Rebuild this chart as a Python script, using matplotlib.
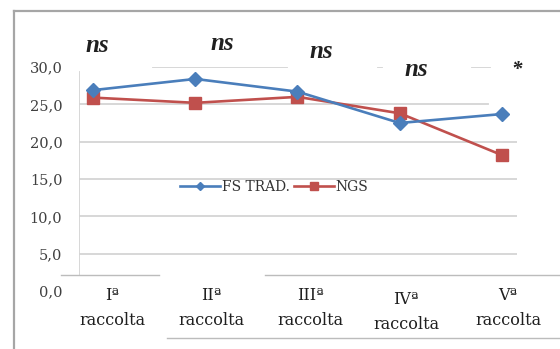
import matplotlib
matplotlib.use("Agg")
import matplotlib.pyplot as plt
from matplotlib.lines import Line2D

# ── Data ──────────────────────────────────────────────────────────────────────
categories = ["Iª\nraccolta", "IIª\nraccolta", "IIIª\nraccolta", "IVª\nraccolta", "Vª\nraccolta"]
fs_trad    = [26.9, 28.4, 26.7, 22.5, 23.7]
ngs        = [25.9, 25.2, 26.0, 23.8, 18.2]
signif     = ["ns", "ns", "ns", "ns", "*"]
y_ticks    = [0, 5, 10, 15, 20, 25, 30]

BLUE = "#4a7ebb"
RED  = "#c0504d"
GRID = "#d4d4d4"
TXT  = "#404040"

W, H = 560, 349

def fx(px):
    return px / W

def fy(py):
    return 1 - py / H

fig = plt.figure(figsize=(W / 100, H / 100), dpi=100)
ax = fig.add_axes([fx(79), fy(291), 438 / W, 224 / H])

x = list(range(len(categories)))
ax.set_xlim(-0.137, 4.147)
ax.set_ylim(0, 30)

# gridlines (the top one only shows in pieces)
for v in [5, 10, 15, 20]:
    ax.axhline(v, color=GRID, lw=1.3, zorder=0)
ax.axhline(25, xmax=0.934, color=GRID, lw=1.3, zorder=0)
for a, b in [(0.169, 0.475), (0.683, 0.692), (0.897, 0.938)]:
    ax.axhline(30, xmin=a, xmax=b, color=GRID, lw=1.3, zorder=0)
ax.axvline(-0.137, ymin=0.071, ymax=0.978, color=GRID, lw=1.3, zorder=0)

ax.plot(x, fs_trad, color=BLUE, lw=1.9, marker="D", ms=7, label="FS TRAD.", zorder=3)
ax.plot(x, ngs, color=RED, lw=1.9, marker="s", ms=9, label="NGS", zorder=2)

for s in ax.spines.values():
    s.set_visible(False)
ax.set_xticks([])
ax.set_yticks(y_ticks)
ax.set_yticklabels([f"{v:.1f}".replace(".", ",") for v in y_ticks],
                   family="DejaVu Serif", fontsize=10.5, color=TXT)
ax.tick_params(axis="y", length=0, pad=12)

leg = ax.legend(loc="center", bbox_to_anchor=(fx(274), fy(187)),
                bbox_transform=fig.transFigure, ncol=2, frameon=False,
                handlelength=2.9, handletextpad=0.1, columnspacing=0.3,
                markerscale=0.6, prop={"family": "DejaVu Serif", "size": 10})
for t in leg.get_texts():
    t.set_color("#333333")

# category labels
lab_x = [112, 211, 310, 406, 508]
lab_y = [308, 308, 308, 312, 308]
for c, px, py in zip(categories, lab_x, lab_y):
    fig.text(fx(px), fy(py), c, ha="center", va="center", linespacing=1.55,
             family="DejaVu Serif", fontsize=11.5, color="#202020")

# significance marks above each collection
sig_x = [97, 222, 321, 416, 517]
sig_y = [45, 43, 51, 70, 70]
for s, px, py in zip(signif, sig_x, sig_y):
    fig.text(fx(px), fy(py), s, ha="center", va="center",
             family="Liberation Serif", style="italic", weight="bold",
             fontsize=18 if s == "ns" else 15, color="#202020")

# outer frame and table rules
frame = dict(color="#a6a6a6", lw=1.6, transform=fig.transFigure)
fig.add_artist(Line2D([fx(14), 1], [fy(11), fy(11)], **frame))
fig.add_artist(Line2D([fx(14), fx(14)], [fy(11), 0], **frame))
rule = dict(color="#bcbcbc", lw=1.0, transform=fig.transFigure)
fig.add_artist(Line2D([fx(61), fx(159)], [fy(274.5), fy(274.5)], **rule))
fig.add_artist(Line2D([fx(265), 1], [fy(275), fy(275)], **rule))
fig.add_artist(Line2D([fx(167), 1], [fy(338), fy(338)], **rule))

fig.savefig("out.png", dpi=100)
